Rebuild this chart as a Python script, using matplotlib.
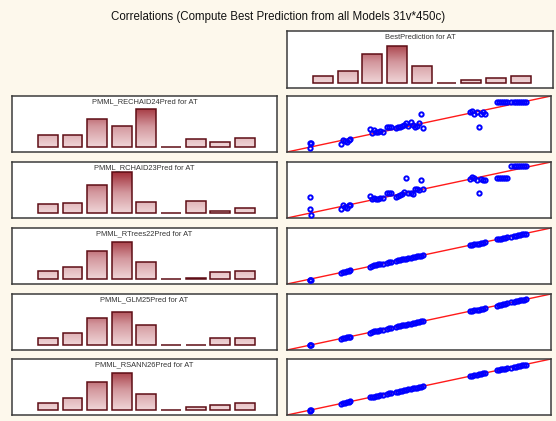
import numpy as np
import matplotlib
matplotlib.use("Agg")
import matplotlib.pyplot as plt
from matplotlib.colors import LinearSegmentedColormap

plt.rcParams['font.family'] = ['Liberation Sans', 'DejaVu Sans']

TITLE = "Correlations (Compute Best Prediction from all Models 31v*450c)"
BEST_LABEL = "BestPrediction for AT"
MODEL_LABELS = [
    "PMML_RECHAID24Pred for AT",
    "PMML_RCHAID23Pred for AT",
    "PMML_RTrees22Pred for AT",
    "PMML_GLM25Pred for AT",
    "PMML_RSANN26Pred for AT",
]

# Histogram bin counts (9 bins)
best_counts = [29, 46, 110, 144, 64, 0, 10, 20, 26]
rechaid24_counts = [46, 49, 110, 83, 148, 0, 33, 20, 37]
rchaid23_counts = [36, 41, 110, 160, 42, 0, 47, 10, 22]
rtrees22_counts = [31, 47, 110, 147, 66, 0, 5, 28, 31]
glm25_counts = [28, 46, 108, 129, 79, 0, 0, 29, 29]
rsann26_counts = [29, 47, 111, 146, 65, 0, 11, 20, 27]

# Best prediction (x of the scatter panels)
best_pred = [
    8.8, 8.8, 9.0,
    20.5, 21.2, 22.0, 22.8, 23.5, 24.0,
    31.5, 32.3, 33.0, 33.8, 34.6, 35.4, 36.2,
    38.0, 38.8, 39.5,
    41.2, 42.0, 42.8, 43.6, 44.4, 45.2, 45.8,
    46.8, 47.6, 48.4, 49.2, 50.0, 50.8, 51.6,
    69.4, 70.2, 71.0, 71.8, 72.6, 73.4, 74.2, 75.0,
    79.5, 80.3, 81.1, 81.9, 82.7, 83.5,
    85.0, 85.8, 86.6, 87.4, 88.2, 89.0, 89.8, 90.4,
]

rechaid24_pred = [
    15.3, 8.0, 15.3,
    14.1, 21.5, 20.2, 17.2, 21.5, 23.3,
    41.7, 33.7, 38.7, 35.6, 35.6, 37.4, 36.2,
    44.8, 44.8, 44.8,
    43.0, 44.8, 45.4, 46.0, 47.8, 50.9, 47.2,
    54.0, 49.1, 45.4, 46.6, 51.5, 68.1, 43.6,
    70.6, 72.4, 68.7, 71.2, 44.8, 68.7, 70.6, 68.7,
    89.0, 89.0, 89.0, 89.0, 89.0, 89.0,
    89.0, 89.0, 89.0, 89.0, 89.0, 89.0, 89.0, 89.0,
]

rchaid23_pred = [
    37.4, 16.6, 6.1,
    15.3, 22.7, 20.2, 18.4, 22.7, 22.7,
    39.9, 33.1, 36.2, 33.7, 34.4, 35.6, 36.2,
    44.8, 44.8, 44.8,
    36.8, 39.3, 41.1, 43.0, 46.0, 70.6, 44.8,
    44.8, 43.0, 52.1, 52.1, 49.7, 67.5, 52.1,
    69.9, 72.4, 70.6, 67.5, 44.8, 69.9, 67.5, 67.5,
    70.6, 70.6, 70.6, 70.6, 70.6, 70.6,
    92.0, 92.0, 92.0, 92.0, 92.0, 92.0, 92.0, 92.0,
]

rtrees22_pred = [
    7.5, 7.8, 8.0,
    19.8, 20.9, 21.5, 22.4, 23.6, 24.3,
    31.0, 32.4, 33.5, 34.1, 34.9, 35.8, 36.6,
    38.3, 38.9, 39.6,
    41.5, 42.2, 43.0, 43.9, 44.6, 45.0, 46.1,
    47.2, 47.9, 48.3, 49.5, 50.2, 50.6, 51.2,
    68.8, 69.9, 70.6, 71.5, 72.2, 73.1, 74.0, 74.6,
    79.8, 80.6, 81.0, 81.8, 82.5, 83.2,
    84.6, 85.5, 86.2, 87.0, 87.9, 88.6, 89.3, 89.9,
]

glm25_pred = [
    8.2, 8.5, 8.6,
    20.1, 21.0, 21.8, 22.5, 23.2, 24.1,
    31.2, 32.0, 33.1, 33.6, 34.8, 35.2, 36.4,
    37.9, 38.6, 39.8,
    41.0, 42.3, 42.6, 43.8, 44.2, 45.5, 46.0,
    46.6, 47.8, 48.1, 49.4, 49.8, 51.0, 51.8,
    69.0, 70.5, 70.8, 72.0, 72.3, 73.6, 74.0, 75.2,
    79.2, 80.5, 80.9, 82.1, 82.4, 83.8,
    85.2, 85.6, 86.8, 87.2, 88.4, 88.8, 89.9, 90.2,
]

rsann26_pred = [
    8.0, 8.3, 8.7,
    20.3, 21.0, 22.1, 22.6, 23.4, 24.2,
    31.3, 32.1, 32.8, 33.9, 34.5, 35.6, 36.0,
    38.2, 38.7, 39.4,
    41.4, 41.8, 43.0, 43.4, 44.6, 45.0, 45.9,
    47.0, 47.4, 48.6, 49.0, 50.2, 50.6, 51.4,
    69.2, 70.0, 71.2, 71.6, 72.8, 73.2, 74.4, 74.8,
    79.6, 80.2, 81.3, 81.7, 82.9, 83.3,
    84.8, 85.9, 86.4, 87.6, 88.0, 89.2, 89.6, 90.1,
]

model_counts = [rechaid24_counts, rchaid23_counts, rtrees22_counts,
                glm25_counts, rsann26_counts]
model_preds = [rechaid24_pred, rchaid23_pred, rtrees22_pred,
               glm25_pred, rsann26_pred]

W, H = 556, 421
BG = "#fdf8ec"
fig = plt.figure(figsize=(W / 100, H / 100), dpi=100, facecolor=BG)

bar_cmap = LinearSegmentedColormap.from_list(
    "bar", ["#f0d6d8", "#d3979d", "#a02e37"])


def add_px_axes(left, top, width, height):
    ax = fig.add_axes([left / W, 1 - (top + height) / H, width / W, height / H])
    ax.set_facecolor("white")
    for s in ax.spines.values():
        s.set_color("#3c3c3c")
        s.set_linewidth(1.1)
    ax.set_xticks([])
    ax.set_yticks([])
    return ax


def draw_hist(ax, counts, label):
    pos = np.arange(len(counts))
    bars = ax.bar(pos, counts, width=0.8, facecolor="none",
                  edgecolor="#5e0d15", linewidth=1.1, zorder=3)
    grad = np.linspace(0, 1, 256).reshape(-1, 1)
    for rect, c in zip(bars, counts):
        if c <= 0:
            continue
        x0 = rect.get_x()
        im = ax.imshow(grad, extent=[x0, x0 + rect.get_width(), 0, 160],
                       origin="lower", aspect="auto", cmap=bar_cmap,
                       zorder=2, interpolation="bilinear")
        im.set_clip_path(rect)
    ax.set_xlim(-1.45, len(counts) + 0.3)
    ax.set_ylim(-19, 200)
    ax.text(0.5, 0.955, label, transform=ax.transAxes, ha="center",
            va="top", fontsize=5.4, color="#333333")


def draw_scatter(ax, xs, ys):
    ax.plot([0, 100], [0, 100], color="#ff1a1a", linewidth=1.0, zorder=2)
    ax.plot(xs, ys, linestyle="none", marker="o", markersize=3.1,
            markerfacecolor="none", markeredgecolor="#0000ff",
            markeredgewidth=1.4, zorder=3)
    ax.set_xlim(0, 100)
    ax.set_ylim(0, 100)


fig.text(0.5, 1 - 17 / H, TITLE, ha="center", va="center",
         fontsize=8.3, color="#111111")

ax_best = add_px_axes(287, 31, 266, 57)
draw_hist(ax_best, best_counts, BEST_LABEL)

row_tops = [96, 162, 228, 294, 359]
for top, counts, preds, label in zip(row_tops, model_counts, model_preds,
                                     MODEL_LABELS):
    ax_h = add_px_axes(12, top, 265, 56)
    draw_hist(ax_h, counts, label)
    ax_s = add_px_axes(287, top, 264, 56)
    draw_scatter(ax_s, best_pred, preds)

fig.savefig("out.png", dpi=100, facecolor=BG)
